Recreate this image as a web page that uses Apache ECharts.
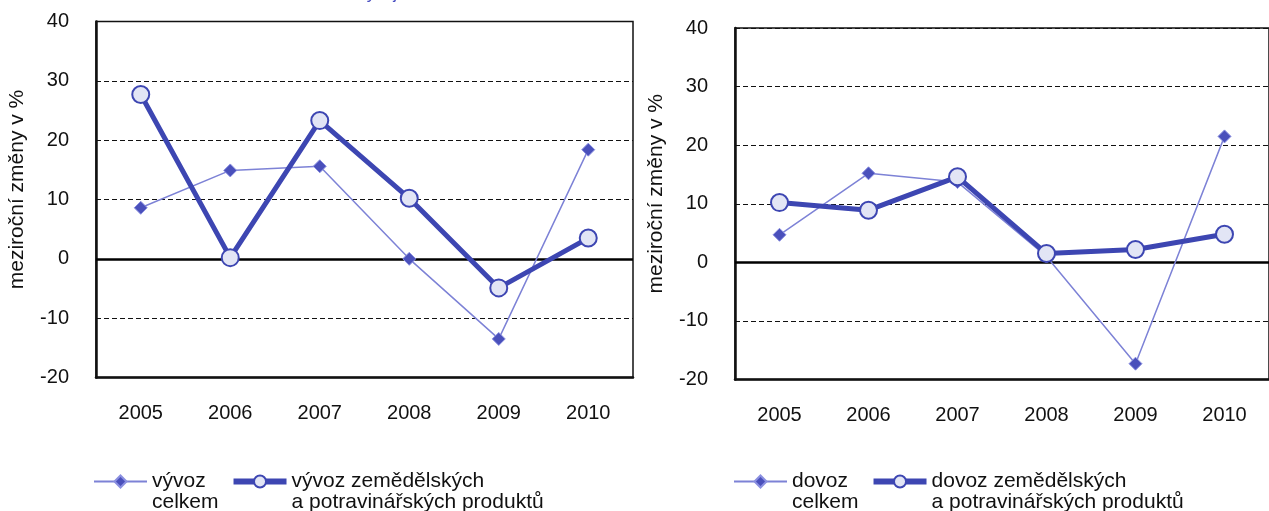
<!DOCTYPE html>
<html>
<head>
<meta charset="utf-8">
<script src="https://cdn.jsdelivr.net/npm/echarts@6/dist/echarts.min.js"></script>
<style>
  html, body { margin: 0; padding: 0; background: #fff; }
  #main { width: 1269px; height: 511px; }
</style>
</head>
<body>
<div id="main"></div>
<script>
// data
var years = ['2005', '2006', '2007', '2008', '2009', '2010'];
var vyvozCelkem = [8.6, 14.9, 15.6, 0.0, -13.5, 18.4];
var vyvozAgro = [27.7, 0.2, 23.3, 10.2, -4.9, 3.5];
var dovozCelkem = [4.7, 15.2, 13.7, 1.0, -17.3, 21.5];
var dovozAgro = [10.2, 8.9, 14.6, 1.5, 2.2, 4.8];
var yTicks = [-20, -10, 0, 10, 20, 30, 40];

var nameVyvozC = 'vývoz\ncelkem';
var nameVyvozA = 'vývoz zemědělských\na potravinářských produktů';
var nameDovozC = 'dovoz\ncelkem';
var nameDovozA = 'dovoz zemědělských\na potravinářských produktů';

var FONT = 'Liberation Sans, Arial, sans-serif';
var thinColor = '#7d82d6';
var thickColor = '#3d46b2';

var myChart = echarts.init(document.getElementById('main'));

function xAx(i) {
  return {
    type: 'category', gridIndex: i, data: years, boundaryGap: true,
    axisLine: { onZero: false, lineStyle: { color: '#111', width: 2.5 } },
    axisTick: { show: false },
    axisLabel: { color: '#111', fontSize: 20, fontFamily: FONT, margin: 26 }
  };
}
function yAx(i) {
  return {
    type: 'value', gridIndex: i,
    min: yTicks[0], max: yTicks[yTicks.length - 1], interval: 10,
    name: 'meziroční změny v %', nameLocation: 'middle', nameGap: 68,
    nameTextStyle: { color: '#111', fontSize: 21, fontFamily: FONT, padding: [0, 0, 0, 20] },
    axisLine: { show: true, lineStyle: { color: '#111', width: 2.5 } },
    axisTick: { show: false },
    axisLabel: { color: '#111', fontSize: 20, fontFamily: FONT, margin: 27 },
    splitLine: { show: true, lineStyle: { color: '#111', width: 1, type: [5, 3] } }
  };
}
function thin(name, data, i) {
  return {
    name: name, type: 'line', xAxisIndex: i, yAxisIndex: i, data: data,
    symbol: 'diamond', symbolSize: 13,
    lineStyle: { color: thinColor, width: 1.5 },
    itemStyle: { color: '#4a50bb', borderColor: '#8a8fe0', borderWidth: 1 },
    z: 3,
    markLine: {
      silent: true, symbol: 'none', label: { show: false },
      lineStyle: { color: '#000', width: 2.5, type: 'solid' },
      data: [{ yAxis: 0 }], z: 2
    }
  };
}
function thick(name, data, i) {
  return {
    name: name, type: 'line', xAxisIndex: i, yAxisIndex: i, data: data,
    symbol: 'circle', symbolSize: 17,
    lineStyle: { color: thickColor, width: 5 },
    itemStyle: { color: '#e2e5f5', borderColor: thickColor, borderWidth: 2 },
    z: 4
  };
}
function leg(left, thinName, thickName) {
  return {
    left: left, top: 445, orient: 'horizontal',
    itemWidth: 53, itemHeight: 15, itemGap: 12,
    data: [
      { name: thinName, lineStyle: { width: 2 } },
      { name: thickName, lineStyle: { width: 6 } }
    ],
    // empty first line keeps the icon level with the first text line
    formatter: function (name) { return ' \n' + name; },
    textStyle: { color: '#111', fontSize: 21, fontFamily: FONT, lineHeight: 21 }
  };
}

myChart.setOption({
  animation: false,
  grid: [
    { left: 96, top: 21.5, width: 537, height: 356, show: true, borderColor: '#111', borderWidth: 1.5 },
    { left: 735, top: 28, width: 539, height: 351.5, show: true, borderColor: '#111', borderWidth: 1.5 }
  ],
  graphic: [{
    type: 'text', x: 397, y: -14,
    style: { text: 'Meziroční vývoj', fill: '#4a4fc2', font: '17px ' + FONT, align: 'right' }
  }],
  legend: [leg(88, nameVyvozC, nameVyvozA), leg(728, nameDovozC, nameDovozA)],
  xAxis: [xAx(0), xAx(1)],
  yAxis: [yAx(0), yAx(1)],
  series: [
    thin(nameVyvozC, vyvozCelkem, 0),
    thick(nameVyvozA, vyvozAgro, 0),
    thin(nameDovozC, dovozCelkem, 1),
    thick(nameDovozA, dovozAgro, 1)
  ]
});
</script>
</body>
</html>
